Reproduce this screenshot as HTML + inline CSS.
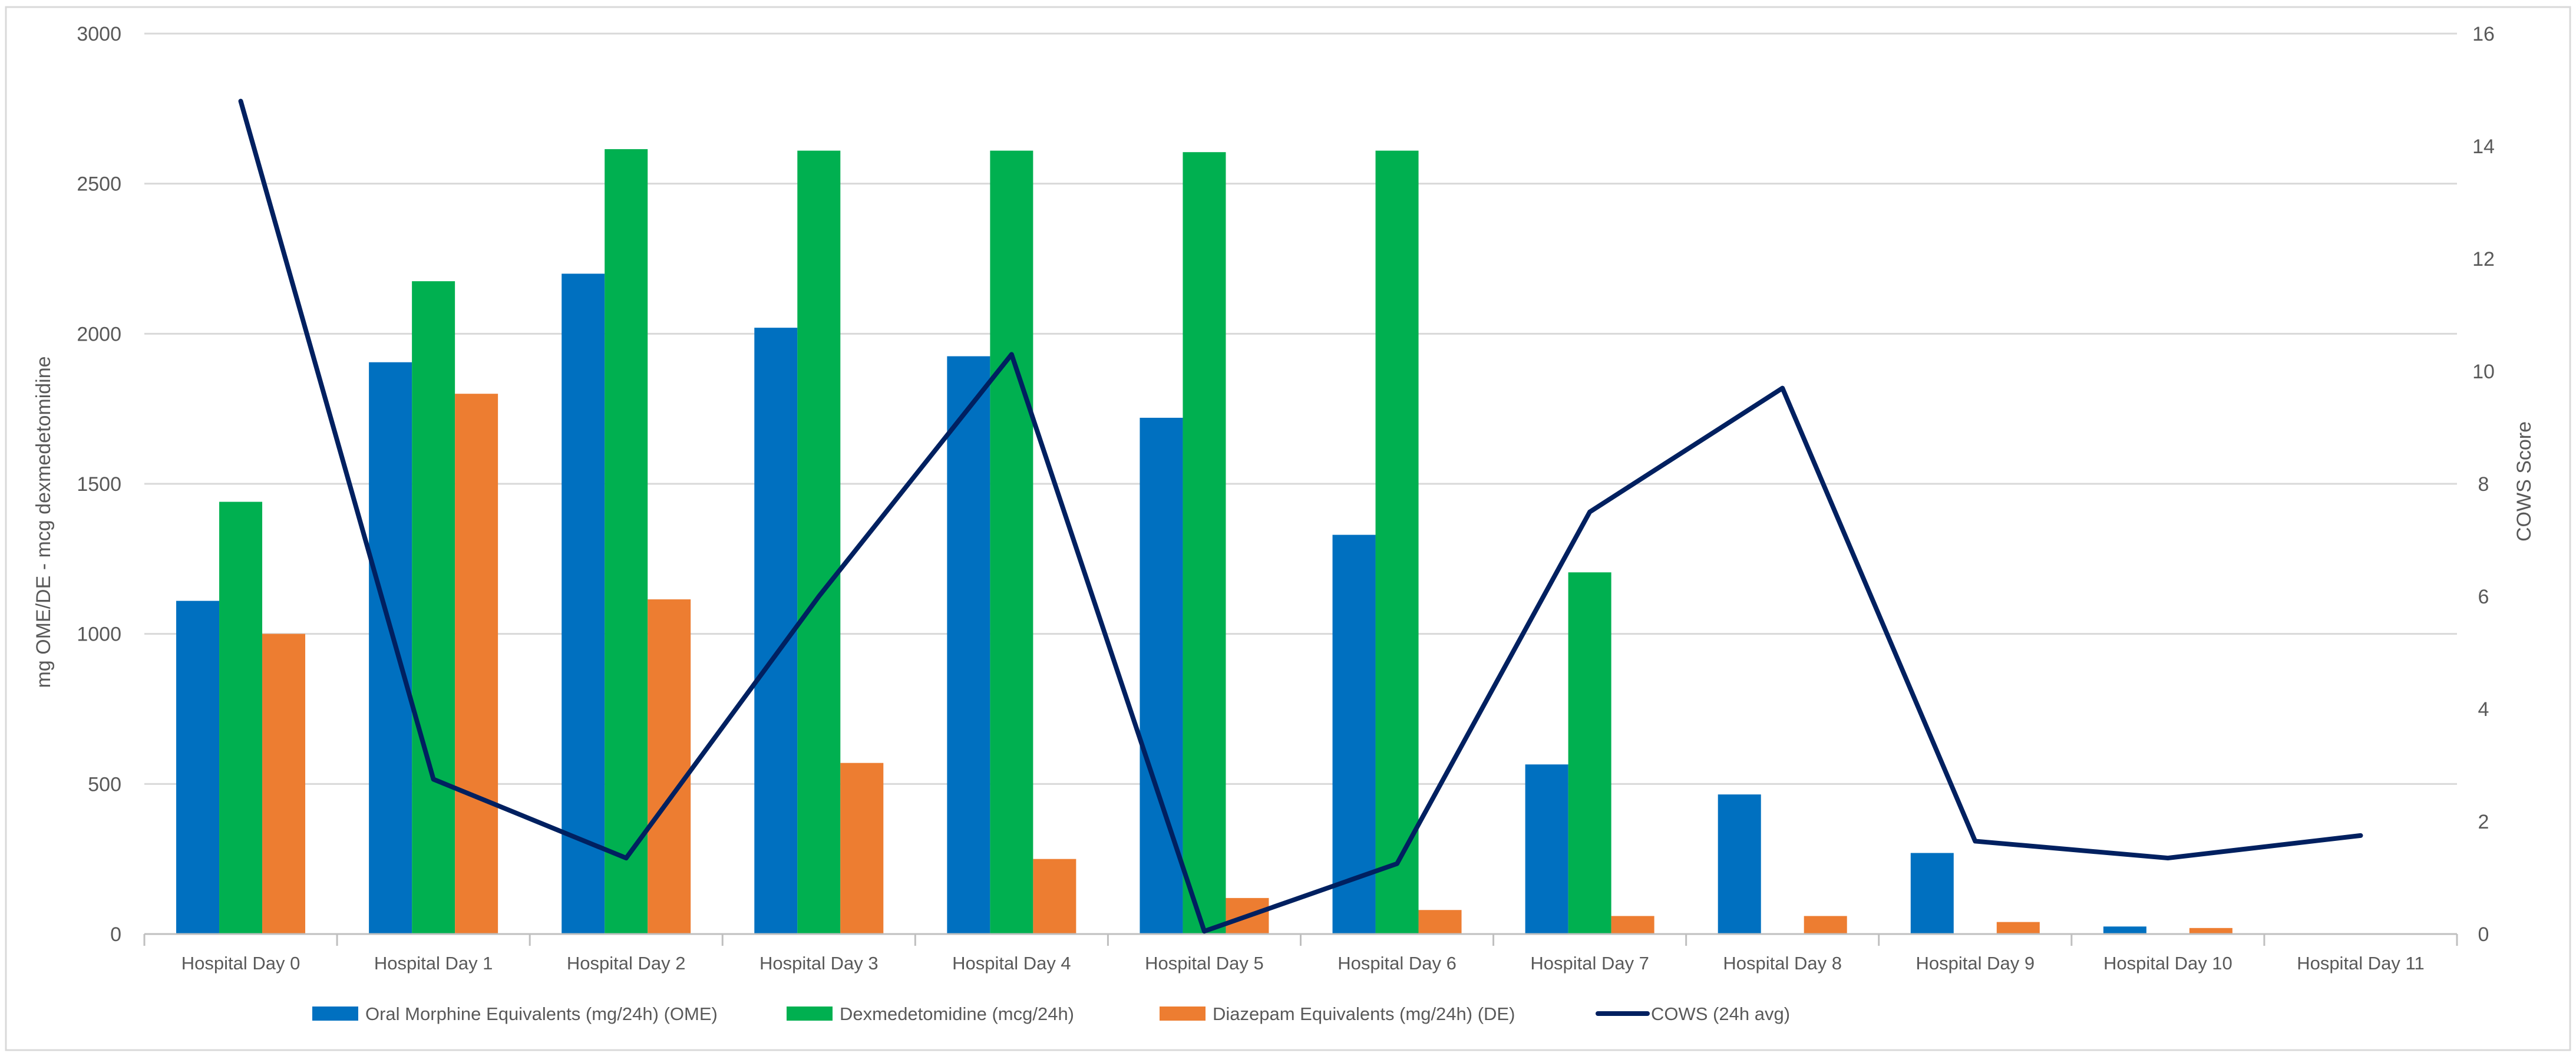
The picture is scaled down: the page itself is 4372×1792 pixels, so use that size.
<!DOCTYPE html>
<html><head><meta charset="utf-8"><style>
html,body{margin:0;padding:0;background:#fff;}
svg{display:block;font-family:"Liberation Sans",sans-serif;}
</style></head><body>
<svg id="chart" width="4372" height="1792" viewBox="0 0 4372 1792" xmlns="http://www.w3.org/2000/svg">
<rect x="10" y="12" width="4352" height="1770" fill="#fff" stroke="#d9d9d9" stroke-width="3"/>
<g id="grid"></g><g id="bars"></g><g id="axes"></g><g id="line"></g><g id="legend"></g>
</svg>
<script>
const categories = ["Hospital Day 0","Hospital Day 1","Hospital Day 2","Hospital Day 3","Hospital Day 4","Hospital Day 5","Hospital Day 6","Hospital Day 7","Hospital Day 8","Hospital Day 9","Hospital Day 10","Hospital Day 11"];
const omeValues = [1110,1905,2200,2020,1925,1720,1330,565,465,270,25,0];
const dexValues = [1440,2175,2615,2610,2610,2605,2610,1205,0,0,0,0];
const deValues = [1000,1800,1115,570,250,120,80,60,60,40,20,0];
const cowsValues = [14.8,2.75,1.35,6.0,10.3,0.05,1.25,7.5,9.7,1.65,1.35,1.75];
const leftTicks = [0,500,1000,1500,2000,2500,3000];
const rightTicks = [0,2,4,6,8,10,12,14,16];

const NS="http://www.w3.org/2000/svg";
const X0=245, X1=4170, Y0=1585, Y1=57;
const band=(X1-X0)/categories.length;
const yL=v=>Y0-(v/3000)*(Y0-Y1);
const yR=v=>Y0-(v/16)*(Y0-Y1);
const xC=i=>X0+band*(i+0.5);
function mk(tag,attrs,parent,text){const e=document.createElementNS(NS,tag);for(const k in attrs)e.setAttribute(k,attrs[k]);if(text!==undefined)e.textContent=text;parent.appendChild(e);return e;}
const grid=document.getElementById('grid'),bars=document.getElementById('bars'),axes=document.getElementById('axes'),lineG=document.getElementById('line'),legend=document.getElementById('legend');

leftTicks.forEach(t=>{
  if(t>0){const g=mk('line',{x1:X0,x2:X1,y1:yL(t),y2:yL(t),stroke:'#d9d9d9','stroke-width':3},grid);
  
  }
  const tx=mk('text',{x:206,y:yL(t)+12,'text-anchor':'end','font-size':34,fill:'#595959'},axes,String(t));
  
  
});
rightTicks.forEach(t=>{
  const tx=mk('text',{x:4215,y:yR(t)+12,'text-anchor':'middle','font-size':34,fill:'#595959'},axes,String(t));
  
  
});
const ax=mk('line',{x1:X0,x2:X1,y1:Y0,y2:Y0,stroke:'#bfbfbf','stroke-width':3},axes);


for(let i=0;i<=categories.length;i++){
  const tk=mk('line',{x1:X0+band*i,x2:X0+band*i,y1:Y0,y2:Y0+20,stroke:'#bfbfbf','stroke-width':3},axes);
  
  
}
categories.forEach((c,i)=>{
  const tx=mk('text',{x:xC(i),y:1645,'text-anchor':'middle','font-size':31,fill:'#595959'},axes,c);
  
  
});
const lt=mk('text',{transform:'translate(85,886) rotate(-90)','text-anchor':'middle','font-size':34,fill:'#595959'},axes,'mg OME/DE - mcg dexmedetomidine');


const rt=mk('text',{transform:'translate(4295,817) rotate(-90)','text-anchor':'middle','font-size':34,fill:'#595959'},axes,'COWS Score');



const series=[[omeValues,'#0070C0','ome'],[dexValues,'#00B050','dex'],[deValues,'#ED7D31','de']];
const bw=73;
series.forEach((s,si)=>{
  s[0].forEach((v,i)=>{
    if(v<=0)return;
    const x=xC(i)-1.5*bw+si*bw;
    const r=mk('rect',{x:x,y:yL(v),width:bw,height:Y0-yL(v),fill:s[1]},bars);
    
    
  });
});
const pts=cowsValues.map((v,i)=>xC(i)+','+yR(v)).join(' ');
const pl=mk('polyline',{points:pts,fill:'none',stroke:'#002060','stroke-width':8,'stroke-linejoin':'round','stroke-linecap':'round'},lineG);



const legItems=[['Oral Morphine Equivalents (mg/24h) (OME)','#0070C0',530,'rect'],['Dexmedetomidine (mcg/24h)','#00B050',1335,'rect'],['Diazepam Equivalents (mg/24h) (DE)','#ED7D31',1968,'rect'],['COWS (24h avg)','#002060',2712,'line']];
legItems.forEach((l,i)=>{
  let sw;
  if(l[3]==='rect') sw=mk('rect',{x:l[2],y:1708,width:78,height:24,fill:l[1]},legend);
  else sw=mk('line',{x1:l[2],x2:l[2]+84,y1:1720,y2:1720,stroke:l[1],'stroke-width':8,'stroke-linecap':'round'},legend);
  
  
  const tx=mk('text',{x:l[2]+90,y:1731,'font-size':31,fill:'#595959'},legend,l[0]);
  
  
});
</script>
</body></html>
